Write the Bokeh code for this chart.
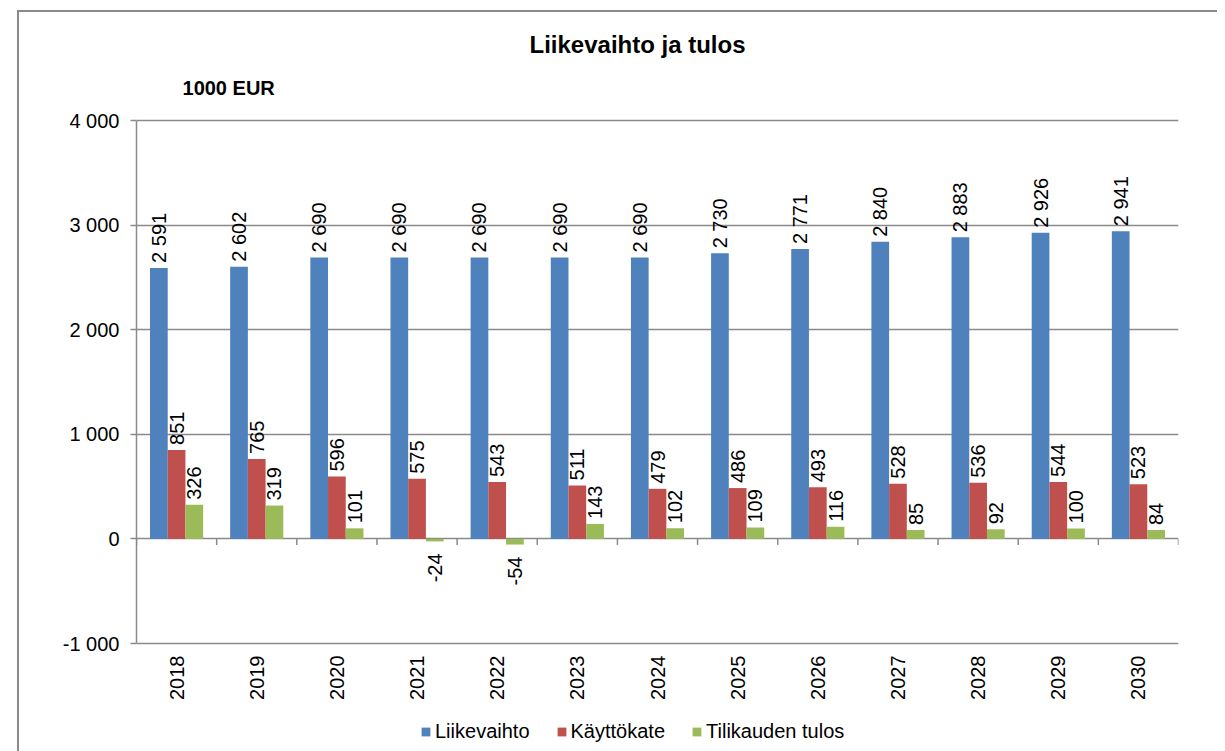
import math
from bokeh.plotting import figure
from bokeh.models import (ColumnDataSource, FixedTicker, Legend, LegendItem, Label, Range1d)
from bokeh.core.properties import value
from bokeh.embed import file_html
from bokeh.resources import INLINE

years = ["2018", "2019", "2020", "2021", "2022", "2023", "2024", "2025", "2026",
         "2027", "2028", "2029", "2030"]
liikevaihto = [2591, 2602, 2690, 2690, 2690, 2690, 2690, 2730, 2771, 2840, 2883, 2926, 2941]
kayttokate = [851, 765, 596, 575, 543, 511, 479, 486, 493, 528, 536, 544, 523]
tulos = [326, 319, 101, -24, -54, 143, 102, 109, 116, 85, 92, 100, 84]
series_names = ["Liikevaihto", "Käyttökate", "Tilikauden tulos"]
colors = ["#4F81BD", "#C0504D", "#9BBB59"]
y_ticks = [-1000, 0, 1000, 2000, 3000, 4000]
chart_title = "Liikevaihto ja tulos"
unit_text = "1000 EUR"

FONT = "Liberation Sans"
GRID = "#8a8a8a"

W, H = 1217, 751
TOP_PX, BOTTOM_PX = 120, 643          # pixel rows of 4000 and -1000
Y_MIN, Y_MAX = y_ticks[0], y_ticks[-1]
upp = (Y_MAX - Y_MIN) / (BOTTOM_PX - TOP_PX)   # data units per pixel


def fmt(v):
    s = f"{abs(v):,}".replace(",", " ")
    return ("-" if v < 0 else "") + s


p = figure(width=W, height=H, output_backend="svg", toolbar_location=None,
           x_range=Range1d(0, len(years)),
           y_range=Range1d(Y_MIN - (H - BOTTOM_PX) * upp, Y_MAX + TOP_PX * upp),
           min_border_left=136, min_border_right=39, min_border_top=0,
           min_border_bottom=0, title=None)
p.outline_line_color = None
p.background_fill_color = None
p.border_fill_color = None
p.styles = {
    "background": ("linear-gradient(#8a8a8a,#8a8a8a) 17px 10px / 2px 100% no-repeat, "
                   "linear-gradient(#8a8a8a,#8a8a8a) 17px 10px / 100% 2px no-repeat, white"),
}

# grid
p.xgrid.grid_line_color = None
p.ygrid.ticker = FixedTicker(ticks=y_ticks)
p.ygrid.grid_line_color = GRID
p.ygrid.grid_line_width = 1.5

# y axis
p.yaxis.ticker = FixedTicker(ticks=y_ticks)
p.yaxis.bounds = (Y_MIN, Y_MAX)
p.yaxis.major_label_overrides = {t: fmt(t) for t in y_ticks}
p.yaxis.axis_line_color = GRID
p.yaxis.axis_line_width = 1.5
p.yaxis.major_tick_line_color = GRID
p.yaxis.major_tick_line_width = 1.5
p.yaxis.major_tick_out = 6
p.yaxis.major_tick_in = 0
p.yaxis.minor_tick_line_color = None
p.yaxis.major_label_standoff = 11
p.yaxis.major_label_text_font = FONT
p.yaxis.major_label_text_font_size = "20px"
p.yaxis.major_label_text_color = "#000000"

# x axis, drawn at the -1000 line
centers = [i + 0.5 for i in range(len(years))]
p.xaxis.ticker = FixedTicker(ticks=centers)
p.xaxis.fixed_location = Y_MIN
p.xaxis.major_label_overrides = {c: y for c, y in zip(centers, years)}
p.xaxis.axis_line_color = None
p.xaxis.major_tick_line_color = None
p.xaxis.major_tick_out = 0
p.xaxis.major_tick_in = 0
p.xaxis.minor_tick_line_color = None
p.xaxis.major_label_orientation = math.pi / 2
p.xaxis.major_label_standoff = 12
p.xaxis.major_label_text_font = FONT
p.xaxis.major_label_text_font_size = "20px"
p.xaxis.major_label_text_color = "#000000"

# category boundary ticks on the zero line
bounds = list(range(len(years) + 1))
p.segment(x0=bounds, x1=bounds, y0=[0] * len(bounds), y1=[-6 * upp] * len(bounds),
          line_color=GRID, line_width=1.5)

bw = 0.221
offsets = [-bw, 0.0, bw]
all_series = [liikevaihto, kayttokate, tulos]
legend_items = []
for name, vals, col, off in zip(series_names, all_series, colors, offsets):
    xs = [c + off for c in centers]
    src = ColumnDataSource(dict(
        x=xs, top=vals, bottom=[0] * len(vals),
        lab=[fmt(v) for v in vals],
        align=["left" if v >= 0 else "right" for v in vals],
        yoff=[-5 if v >= 0 else 12 for v in vals],
    ))
    r = p.vbar(x="x", top="top", bottom="bottom", width=bw, source=src,
               fill_color=col, line_color=None)
    p.text(x="x", y="top", text="lab", source=src, angle=math.pi / 2,
           text_align="align", y_offset="yoff", text_baseline="middle",
           text_font=value(FONT), text_font_size="20px", text_color="#000000")
    legend_items.append(LegendItem(label=name, renderers=[r]))

legend = Legend(items=legend_items, orientation="horizontal", location=(284, 8),
                glyph_width=11, glyph_height=11, label_standoff=4, spacing=26,
                padding=0, margin=0, border_line_color=None,
                background_fill_alpha=0, label_text_font=FONT,
                label_text_font_size="20px", label_text_color="#000000",
                label_height=24)
p.add_layout(legend, "center")

# title and unit label
p.add_layout(Label(x=(637 - 136) / 80.15, y=Y_MAX + (TOP_PX - 44) * upp,
                   text=chart_title, text_align="center", text_baseline="middle",
                   text_font=FONT, text_font_size="24px", text_font_style="bold",
                   text_color="#000000"))
p.add_layout(Label(x=(182 - 136) / 80.15, y=Y_MAX + (TOP_PX - 87) * upp,
                   text=unit_text, text_align="left", text_baseline="middle",
                   text_font=FONT, text_font_size="20px", text_font_style="bold",
                   text_color="#000000"))

open("out.html", "w").write(file_html(p, INLINE))
